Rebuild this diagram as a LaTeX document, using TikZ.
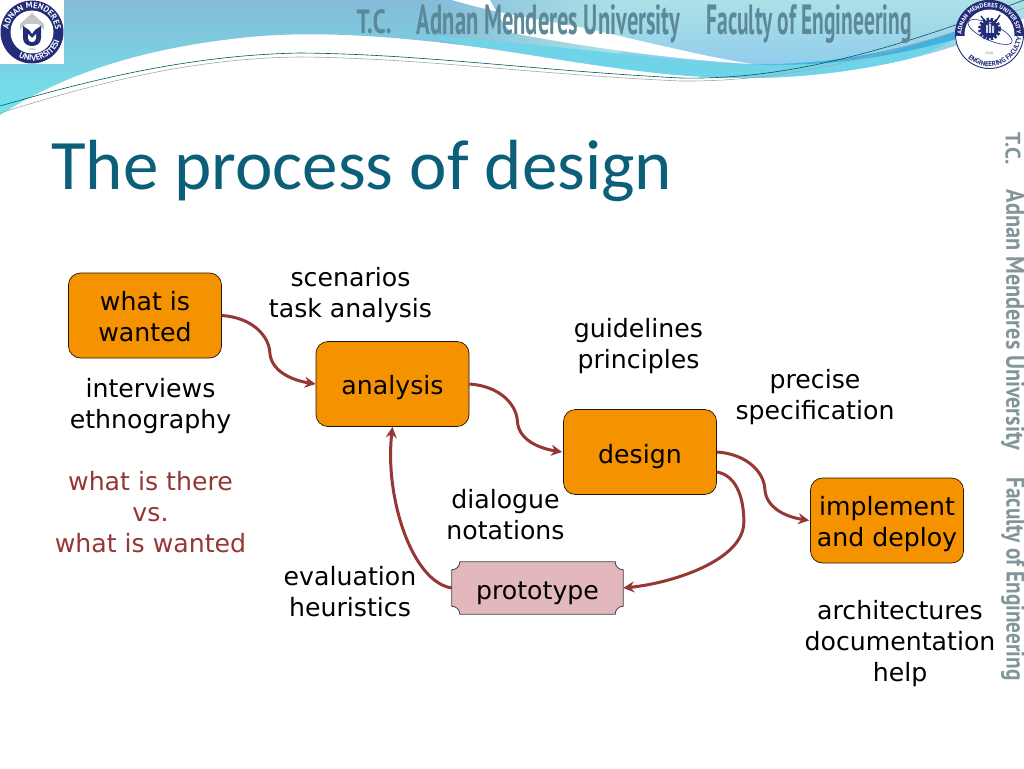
\documentclass[tikz,border=0pt]{standalone}
\usepackage{fontspec}
\usepackage{graphicx}
\setmainfont{DejaVu Sans}
\newfontfamily\titlefont{Carlito}
\newfontfamily\headfont{PT Sans}
\usetikzlibrary{arrows.meta,decorations.text,calc}
\definecolor{boxorange}{HTML}{F59200}
\definecolor{arrowred}{HTML}{953735}
\definecolor{protopink}{HTML}{E2B8BC}
\definecolor{titleteal}{HTML}{0B5F78}
\definecolor{headtext}{HTML}{5C8898}
\definecolor{sidetext}{HTML}{82959A}
\definecolor{navy}{HTML}{232C78}
\definecolor{bandtop}{HTML}{86BBD8}
\definecolor{bandbot}{HTML}{70E4EC}
\definecolor{rtop}{HTML}{ACE2E6}
\definecolor{rbot}{HTML}{91CDEC}
\definecolor{ltop}{HTML}{86BEDA}
\definecolor{midband}{HTML}{70D4E8}
\definecolor{deepband}{HTML}{42B0E0}
\newcommand\dn[2]{\raisebox{-#1}[0pt][0pt]{\begin{tabular}{@{}c@{}}#2\end{tabular}}}
\tikzset{
  x=1pt,y=-1pt,
  procbox/.style={draw=black!85!orange,line width=0.7pt,fill=boxorange,rounded corners=12pt,minimum width=153pt,minimum height=85pt,align=center,font=\fontsize{25.2}{31}\selectfont,inner sep=0pt},
  lab/.style={align=center,font=\fontsize{25.2}{31}\selectfont,inner sep=0pt,text=black},
  redlab/.style={lab,text=arrowred},
  conn/.style={draw=arrowred,line width=3pt,-{Stealth[length=11pt,width=11pt]}},
  thinline/.style={line width=0.6pt},
  headlab/.style={inner sep=0pt,text=headtext},
  sidelab/.style={inner sep=0pt,text=sidetext,rotate=-90},
}
\begin{document}
\begin{tikzpicture}
\useasboundingbox (0,0) rectangle (1024,768);
\fill[white] (0,0) rectangle (1024,768);
% header band
\begin{scope}
\clip (0,0) -- (1024,0) -- (1024,18) .. controls (960,50) and (860,78) .. (745,78)
  .. controls (650,78) and (560,58) .. (470,46)
  .. controls (390,36) and (310,30) .. (240,38)
  .. controls (150,48) and (70,70) .. (0,115) -- cycle;
\shade[top color=bandtop,bottom color=bandbot] (0,0) rectangle (1024,115);
\shade[top color=rtop,bottom color=rbot] (600,0) rectangle (1024,64);
\shade[left color=ltop,right color=rtop] (440,0) rectangle (620,64);
\fill[midband] (440,36) .. controls (600,50) and (680,62) .. (750,64) .. controls (800,66) and (860,60) .. (960,34) .. controls (930,62) and (830,80) .. (745,78) .. controls (650,78) and (580,62) .. (440,40) -- cycle;
\fill[deepband] (750,64) .. controls (830,66) and (900,50) .. (960,30) -- (960,38) .. controls (900,55) and (830,68) .. (750,64) -- cycle;
\fill[white] (452,0) .. controls (500,14) and (540,20) .. (570,25) .. controls (640,40) and (700,56) .. (752,64) .. controls (680,60) and (590,48) .. (512,33) .. controls (500,20) and (500,18) .. (490,0) -- cycle;
\end{scope}
% wave lines
\draw[thinline,draw=teal!70!black] (0,106) .. controls (90,80) and (190,55) .. (300,53) .. controls (420,54) and (530,70) .. (680,78) .. controls (780,80) and (880,55) .. (1024,0);
\draw[thinline,draw=gray!70] (0,113) .. controls (90,85) and (190,58) .. (300,57) .. controls (420,58) and (530,74) .. (680,81) .. controls (780,82) and (880,60) .. (1024,8);
% header text
\node[headlab] (hTC) at (374,22) {\resizebox{35pt}{24pt}{\headfont\bfseries T.C.}};
\node[headlab] (hAMU) at (548.5,23.5) {\resizebox{263pt}{30pt}{\headfont\bfseries Adnan Menderes University}};
\node[headlab] (hFOE) at (809,23.5) {\resizebox{205pt}{30pt}{\headfont\bfseries Faculty of Engineering}};
\node[sidelab] (sTC) at (1013,149) {\resizebox{32pt}{15pt}{\headfont\bfseries T.C.}};
\node[sidelab] (sAMU) at (1013,320) {\resizebox{260pt}{18.5pt}{\headfont\bfseries Adnan Menderes University}};
\node[sidelab] (sFOE) at (1013,579) {\resizebox{203pt}{18.5pt}{\headfont\bfseries Faculty of Engineering}};
% left logo
\fill[white] (0,0) rectangle (64,64);
\fill[navy] (32,32) circle[radius=31.5pt];
\fill[white] (32,32) circle[radius=21.5pt];
\path[decorate,decoration={text along path,text align=center,text={|\fontsize{8.4}{9}\headfont\bfseries\color{white}|ADNAN MENDERES}}] (9.2,37.7) arc[start angle=194,end angle=-14,radius=23.5pt];
\path[decorate,decoration={text along path,text align=center,text={|\fontsize{8.4}{9}\headfont\bfseries\color{white}|UNIVERSITESI}}] (6.9,46.5) arc[start angle=210,end angle=375,radius=29pt];
\fill[gray!45] (32,13) -- (44,24) -- (44,30) -- (38,24) -- (26,24) -- (20,30) -- (20,24) -- cycle;
\fill[navy] (23,26) -- (29,30) -- (32,34) -- (35,30) -- (41,26) -- (41,38) .. controls (41,44) and (36,46) .. (32,46) .. controls (28,46) and (23,44) .. (23,38) -- cycle;
\fill[white] (28,34) -- (32,38) -- (36,34) -- (36,38) .. controls (36,41) and (34,42) .. (32,42) .. controls (30,42) and (28,41) .. (28,38) -- cycle;
\node[inner sep=0pt,font=\fontsize{3}{3.5}\selectfont,text=gray] (lyear) at (32,49.5) {1992};
% right logo
\fill[white] (989.5,34.5) circle[radius=34.5pt];
\begin{scope}
\clip (950,0) rectangle (1030,36);
\fill[navy] (989.5,34.5) circle[radius=34.5pt];
\end{scope}
\draw[navy,line width=0.9pt] (989.5,34.5) circle[radius=34pt];
\fill[white] (989.5,34.5) circle[radius=25pt];
\path[decorate,decoration={text along path,text align=center,text={|\fontsize{6.2}{7}\headfont\bfseries\color{white}|ADNAN MENDERES UNIVERSITY}}] (962,38.9) arc[start angle=189,end angle=-9,radius=27.5pt];
\path[decorate,decoration={text along path,text align=center,text={|\fontsize{7}{7}\headfont\bfseries\color{navy}|ENGINEERING FACULTY}}] (959.8,46.5) arc[start angle=202,end angle=380,radius=32pt];
\draw[navy,line width=3pt,dash pattern=on 2.5pt off 1.5pt] (989.5,29) circle[radius=10pt];
\fill[navy] (989.5,29) circle[radius=9pt];
\fill[white!80!navy] (986,33) rectangle (988,25) (989,33) rectangle (991,22) (992,33) rectangle (994,26);
\draw[navy,line width=1.4pt] (981,16) -- (987,24) (1000,15) -- (994,24);
\draw[navy,thinline,rotate around={-25:(990,32)}] (990,32) ellipse[x radius=24pt,y radius=8pt];
\node[inner sep=0pt,font=\fontsize{3}{3.5}\selectfont,text=gray] (ryear) at (989.5,53) {2008};
% title
\node[anchor=base west,inner sep=0pt,text=titleteal,font=\titlefont\fontsize{71}{76}\selectfont] (title) at (51,189) {The process of design};
% boxes
\node[procbox] (want) at (145,315.5) {\dn{11pt}{what is\\wanted}};
\node[procbox] (analysis) at (392.5,384) {\dn{11pt}{analysis}};
\node[procbox] (design) at (640,452) {\dn{11.5pt}{design}};
\node[procbox] (impl) at (887,520.5) {\dn{10.8pt}{implement\\and deploy}};
\node[inner sep=0pt,minimum width=171pt,minimum height=52pt] (proto) at (537.5,588) {};
\path[draw=black!75,line width=0.8pt,fill=protopink]
 ($(proto.north west)+(8,0)$) -- ($(proto.north east)+(-8,0)$)
 arc[start angle=180,end angle=270,radius=8pt] -- ($(proto.south east)+(0,-8)$)
 arc[start angle=90,end angle=180,radius=8pt] -- ($(proto.south west)+(8,0)$)
 arc[start angle=0,end angle=90,radius=8pt] -- ($(proto.north west)+(0,8)$)
 arc[start angle=270,end angle=360,radius=8pt] -- cycle;
\node[lab] (protolabel) at ($(proto.center)+(0,5)$) {prototype};
% labels
\node[lab] (l1) at (350.5,295) {scenarios\\task analysis};
\node[lab] (l2) at (638.5,346.5) {guidelines\\principles};
\node[lab] (l3) at (815,397.5) {precise\\specification};
\node[lab] (l4) at (150.5,406) {interviews\\ethnography};
\node[redlab] (l5) at (150.5,512) {what is there\\vs.\\what is wanted};
\node[lab] (l6) at (505.5,515) {dialogue\\notations};
\node[lab] (l7) at (350,592) {evaluation\\heuristics};
\node[lab] (l8) at (900,644) {architectures\\documentation\\help};
% connectors
\draw[conn] (want.east) .. controls +(30,2) and +(-1,-17) .. ($(want.east)+(48,37)$) .. controls +(1,18) and +(-25,-4) .. (analysis.west);
\draw[conn] (analysis.east) .. controls +(30,2) and +(-1,-17) .. ($(analysis.east)+(48,37)$) .. controls +(1,18) and +(-25,-4) .. ($(design.west)+(-1,0)$);
\draw[conn] (design.east) .. controls +(30,2) and +(-1,-17) .. ($(design.east)+(48,37)$) .. controls +(1,18) and +(-25,-4) .. ($(impl.west)+(-1,0)$);
\draw[conn] ($(design.east)+(0,20)$) .. controls +(18,3) and +(0,-27) .. ($(design.east)+(27,70)$) .. controls +(0,38) and +(50,-5) .. (proto.east);
\draw[conn] (proto.west) .. controls +(-40,-6) and +(-8,70) .. (analysis.south);
\end{tikzpicture}
\end{document}
